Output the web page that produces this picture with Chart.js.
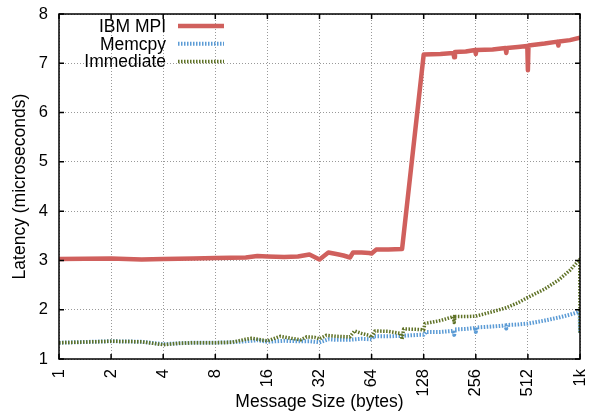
<!DOCTYPE html>
<html>
<head>
<meta charset="utf-8">
<script src="https://cdn.jsdelivr.net/npm/chart.js@4.4.1/dist/chart.umd.min.js"></script>
<style>
  html, body { margin: 0; padding: 0; background: #fff; }
  #wrap { width: 597px; height: 416px; }
</style>
</head>
<body>
<div id="wrap"><canvas id="latencyChart" width="597" height="416"></canvas></div>
<script>
// message sizes on the log2 axis
const xTicks = [1, 2, 4, 8, 16, 32, 64, 128, 256, 512, 1024];
const yTicks = [1, 2, 3, 4, 5, 6, 7, 8];

// IBM MPI
const mpiSizes = [1, 2, 3, 4, 6, 8, 12, 14, 16, 20, 24, 28, 32, 36, 40, 44, 48, 50, 56, 62, 64, 68, 80, 96,
    128, 160, 190, 192, 194, 224, 254, 256, 258, 320, 380, 384, 388, 448, 508, 512, 516, 640, 760, 768, 776, 896, 1024];
const mpiLatency = [3.03, 3.04, 3.02, 3.03, 3.04, 3.05, 3.06, 3.09, 3.08, 3.07, 3.08, 3.12, 3.02, 3.16, 3.13, 3.10, 3.06, 3.16, 3.16, 3.15, 3.14, 3.22, 3.22, 3.23,
    7.18, 7.19, 7.21, 7.12, 7.23, 7.24, 7.27, 7.19, 7.27, 7.28, 7.31, 7.21, 7.31, 7.33, 7.35, 6.86, 7.36, 7.40, 7.44, 7.36, 7.44, 7.47, 7.52];

// Memcpy
const memcpySizes = [1, 2, 3, 4, 5, 6, 8, 10, 12, 14, 16, 20, 24, 28, 32, 36, 40, 48, 56, 64, 66, 80, 96, 120, 128, 132,
    160, 190, 192, 194, 224, 254, 256, 258, 320, 380, 384, 388, 448, 512, 640, 768, 896, 1020, 1024];
const memcpyLatency = [1.33, 1.36, 1.35, 1.30, 1.32, 1.33, 1.33, 1.34, 1.36, 1.38, 1.35, 1.37, 1.36, 1.36, 1.34, 1.40, 1.39, 1.39, 1.41, 1.40, 1.46, 1.46, 1.47, 1.49, 1.49, 1.55,
    1.55, 1.57, 1.49, 1.60, 1.61, 1.63, 1.55, 1.64, 1.66, 1.68, 1.62, 1.69, 1.70, 1.72, 1.78, 1.84, 1.90, 1.96, 1.53];

// Immediate
const immSizes = [1, 2, 3, 4, 5, 6, 8, 10, 12, 13, 16, 19, 22, 25, 27, 30, 32, 35, 40, 48, 51, 56, 62, 64, 67, 80, 94, 96, 98, 120, 128, 130,
    160, 190, 192, 194, 224, 256, 320, 384, 448, 512, 640, 768, 896, 1020, 1024];
const immLatency = [1.33, 1.36, 1.35, 1.29, 1.32, 1.33, 1.33, 1.34, 1.40, 1.42, 1.37, 1.46, 1.42, 1.39, 1.45, 1.44, 1.41, 1.48, 1.46, 1.45, 1.57, 1.52, 1.48, 1.44, 1.57, 1.56, 1.52, 1.40, 1.61, 1.60, 1.59, 1.72,
    1.78, 1.86, 1.74, 1.86, 1.86, 1.87, 1.96, 2.04, 2.14, 2.25, 2.42, 2.60, 2.80, 3.02, 1.53];

const toPoints = (xs, ys) => xs.map((x, i) => ({ x: x, y: ys[i] }));
const FONT = "'Liberation Sans', Arial, Helvetica, sans-serif";

// gnuplot style frame with inward ticks
const framePlugin = {
    id: 'frame',
    afterDraw(chart) {
        const { ctx, chartArea: a, scales } = chart;
        ctx.save();
        ctx.strokeStyle = '#000';
        ctx.lineWidth = 1.5;
        ctx.beginPath();
        xTicks.forEach(v => {
            const px = scales.x.getPixelForValue(v);
            ctx.moveTo(px, a.bottom); ctx.lineTo(px, a.bottom - 5);
            ctx.moveTo(px, a.top); ctx.lineTo(px, a.top + 5);
        });
        yTicks.forEach(v => {
            const py = scales.y.getPixelForValue(v);
            ctx.moveTo(a.left, py); ctx.lineTo(a.left + 5, py);
            ctx.moveTo(a.right, py); ctx.lineTo(a.right - 5, py);
        });
        ctx.stroke();
        ctx.strokeRect(a.left, a.top, a.right - a.left, a.bottom - a.top);
        ctx.restore();
    }
};

// key in the top left corner, text right aligned, sample line to its right
const keyPlugin = {
    id: 'key',
    afterDraw(chart) {
        const ctx = chart.ctx;
        ctx.save();
        ctx.font = '17.5px ' + FONT;
        ctx.textAlign = 'right';
        ctx.textBaseline = 'middle';
        ctx.fillStyle = '#000';
        chart.data.datasets.forEach((ds, i) => {
            const y = 26 + i * 17.8;
            ctx.fillText(ds.label, 166, y + 1);
            ctx.beginPath();
            ctx.strokeStyle = ds.borderColor;
            ctx.lineWidth = ds.borderWidth;
            ctx.setLineDash(ds.borderDash || []);
            ctx.moveTo(178, y);
            ctx.lineTo(224, y);
            ctx.stroke();
        });
        ctx.restore();
    }
};

const ctx = document.getElementById('latencyChart').getContext('2d');
const latencyChart = new Chart(ctx, {
    type: 'line',
    data: {
        datasets: [{
            label: 'IBM MPI',
            data: toPoints(mpiSizes, mpiLatency),
            borderColor: '#d0605d',
            borderWidth: 4.5,
            order: 2
        }, {
            label: 'Memcpy',
            data: toPoints(memcpySizes, memcpyLatency),
            borderColor: '#5b9bd5',
            borderWidth: 4,
            borderDash: [1.5, 1.5],
            order: 1
        }, {
            label: 'Immediate',
            data: toPoints(immSizes, immLatency),
            borderColor: '#5f7226',
            borderWidth: 3.5,
            borderDash: [1.5, 1.5],
            order: 0
        }]
    },
    options: {
        responsive: false,
        animation: false,
        layout: { padding: { top: 14, right: 17, left: 0, bottom: 0 } },
        elements: {
            point: { radius: 0 },
            line: { tension: 0, borderCapStyle: 'butt', borderJoinStyle: 'round' }
        },
        plugins: {
            legend: { display: false },
            tooltip: { enabled: false }
        },
        scales: {
            x: {
                type: 'logarithmic',
                min: 1,
                max: 1024,
                afterBuildTicks: (scale) => { scale.ticks = xTicks.map(v => ({ value: v })); },
                afterFit: (scale) => {
                    scale.height = 57;
                    scale.paddingLeft = 0;
                    scale.paddingRight = 0;
                },
                grid: { color: '#999', lineWidth: 1, drawTicks: false },
                border: { display: false, dash: [1, 2] },
                ticks: {
                    color: '#000',
                    font: { family: FONT, size: 16.5 },
                    minRotation: 90,
                    maxRotation: 90,
                    autoSkip: false,
                    padding: 10,
                    callback: (v) => v === 1024 ? '1k' : String(v)
                },
                title: {
                    display: true,
                    text: 'Message Size (bytes)',
                    color: '#000',
                    font: { family: FONT, size: 17.5 },
                    padding: { top: 0, bottom: 3 }
                }
            },
            y: {
                min: 1,
                max: 8,
                afterBuildTicks: (scale) => { scale.ticks = yTicks.map(v => ({ value: v })); },
                afterFit: (scale) => {
                    scale.width = 59;
                    scale.paddingTop = 0;
                    scale.paddingBottom = 0;
                },
                grid: { color: '#999', lineWidth: 1, drawTicks: false },
                border: { display: false, dash: [1, 2] },
                ticks: {
                    color: '#000',
                    font: { family: FONT, size: 16.5 },
                    padding: 11
                },
                title: {
                    display: true,
                    text: 'Latency (microseconds)',
                    color: '#000',
                    font: { family: FONT, size: 17.5 },
                    padding: { top: 10, bottom: 0 }
                }
            }
        }
    },
    plugins: [framePlugin, keyPlugin]
});
</script>
</body>
</html>
